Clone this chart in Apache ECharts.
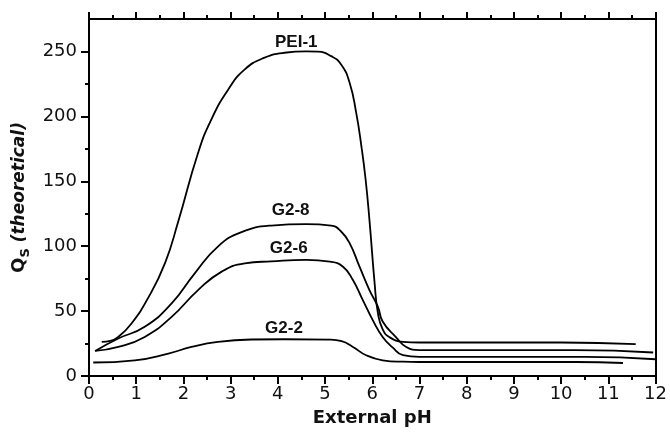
<!DOCTYPE html>
<html>
<head>
<meta charset="utf-8">
<script src="https://cdn.jsdelivr.net/npm/echarts@6/dist/echarts.min.js"></script>
<style>html,body{margin:0;padding:0;background:#fff}#c{width:670px;height:437px}</style>
</head>
<body>
<div id="c"></div>
<script>
// ---- data ----
const xTicks = [0,1,2,3,4,5,6,7,8,9,10,11,12];
const yTicks = [0,50,100,150,200,250];
const yMinorTicks = [25,75,125,175,225];

const pei1_pH = [0.27,0.45,0.62,0.9,1.25,1.61,1.89,2.31,2.59,2.95,3.3,3.72,4.14,4.6,4.85,5.13,5.34,5.52,5.66,5.77,5.86,5.94,6.05,6.12,6.22,6.36,6.65,7.0,10.0,11.58];
const pei1_Q  = [26.3,27.0,30.1,40.5,60.0,87.0,119.0,171.8,197.5,220.7,236.2,245.2,249,250,249.8,246.4,240,225.9,202.7,176.9,151,120.3,71.4,48.2,36,30,26.3,25.8,25.8,24.5];

const g28_pH = [0.13,0.62,1.18,1.75,2.24,2.73,3.23,3.86,4.6,5.13,5.34,5.52,5.73,5.94,6.12,6.22,6.5,6.72,7.0,10.3,11.95];
const g28_Q  = [19.3,28.9,37.9,55.9,79.1,99.7,110.8,115.9,117,115.9,111.3,102.3,84.2,66.2,53.3,42,30,22.4,19.9,19.9,18.1];

const g26_pH = [0.13,0.62,1.18,1.75,2.31,2.81,3.3,3.86,4.6,5.1,5.38,5.59,5.8,6.01,6.22,6.43,6.65,7.0,10.5,12.0];
const g26_Q  = [19.3,22.4,30.1,45.6,66.2,80.4,86.8,88.3,89.4,88.1,84.2,73.9,58.5,43,30.1,22,16,14.7,14.7,12.9];

const g22_pH = [0.09,0.97,1.68,2.17,2.73,3.44,4.14,5.1,5.35,5.59,5.87,6.22,6.64,7.0,10.3,11.31];
const g22_Q  = [10.4,12.1,17.3,22.4,26.3,28.1,28.3,28.0,26.8,22.4,16,12.1,11,10.8,10.8,10.0];

const seriesNames = ['PEI-1','G2-8','G2-6','G2-2'];
const labelAt = [[4.39,257.4],[4.27,127.6],[4.23,98.7],[4.13,36.9]];

// ---- chart ----
const pairs = (xs, ys) => xs.map((x,i)=>[x, ys[i]]);
const allData = [pairs(pei1_pH,pei1_Q), pairs(g28_pH,g28_Q), pairs(g26_pH,g26_Q), pairs(g22_pH,g22_Q)];

const tickFont = {fontFamily:'DejaVu Sans', fontSize:18, color:'#111'};
const lineStyle = {color:'#000', width:2};

const chart = echarts.init(document.getElementById('c'), null, {renderer:'canvas'});
chart.setOption({
  animation:false,
  backgroundColor:'#fff',
  grid:{left:89, right:13, top:19, bottom:61, containLabel:false},
  xAxis:[
    {type:'value', position:'bottom', min:0, max:12, interval:1,
     axisLine:{show:true, onZero:false, lineStyle:lineStyle},
     axisTick:{show:true, inside:false, length:8, lineStyle:{color:'#000', width:2}},
     minorTick:{show:true, splitNumber:2, length:4, lineStyle:{color:'#000', width:2}},
     splitLine:{show:false},
     axisLabel:Object.assign({margin:9, customValues:xTicks}, tickFont),
     name:'External pH', nameLocation:'middle', nameGap:33,
     nameTextStyle:{fontFamily:'DejaVu Sans', fontSize:18, fontWeight:'bold', color:'#111'}},
    {type:'value', position:'top', min:0, max:12, interval:1,
     axisLine:{show:true, onZero:false, lineStyle:lineStyle},
     axisTick:{show:true, inside:false, length:7, lineStyle:{color:'#000', width:2}},
     minorTick:{show:true, splitNumber:2, length:4, lineStyle:{color:'#000', width:2}},
     splitLine:{show:false}, axisLabel:{show:false}}
  ],
  yAxis:[
    {type:'value', position:'left', min:0, max:275,
     axisLine:{show:true, onZero:false, lineStyle:lineStyle},
     axisTick:{show:true, inside:false, length:8, customValues:yTicks, lineStyle:{color:'#000', width:2}},
     splitLine:{show:false},
     axisLabel:Object.assign({margin:12, customValues:yTicks}, tickFont),
     name:'{q|Q}{s|S}{t| (theoretical)}', nameLocation:'middle', nameGap:56, nameRotate:90,
     nameTextStyle:{
       rich:{
         q:{fontFamily:'DejaVu Sans', fontSize:18, fontWeight:'bold', color:'#111', lineHeight:24, verticalAlign:'middle'},
         s:{fontFamily:'DejaVu Sans', fontSize:13, fontWeight:'bold', color:'#111', lineHeight:24, verticalAlign:'bottom'},
         t:{fontFamily:'DejaVu Sans', fontSize:17, fontWeight:'bold', fontStyle:'italic', color:'#111', lineHeight:24, verticalAlign:'middle'}
       }
     }},
    {type:'value', position:'left', min:0, max:275,
     axisLine:{show:false},
     axisTick:{show:true, inside:false, length:4, customValues:yMinorTicks, lineStyle:{color:'#000', width:2}},
     splitLine:{show:false}, axisLabel:{show:false}},
    {type:'value', position:'right', min:0, max:275,
     axisLine:{show:true, onZero:false, lineStyle:lineStyle},
     axisTick:{show:false}, splitLine:{show:false}, axisLabel:{show:false}}
  ],
  series: allData.map((d,i)=>({
    type:'line', name:seriesNames[i], xAxisIndex:0, yAxisIndex:0,
    data:d, showSymbol:false, symbol:'none', smooth:0.5,
    lineStyle:{color:'#000', width:1.8},
    markPoint:{
      symbol:'rect', symbolSize:1, itemStyle:{color:'rgba(0,0,0,0)'},
      label:{show:true, position:'inside', formatter:seriesNames[i],
             fontFamily:'Liberation Sans', fontSize:17, fontWeight:'bold', color:'#111'},
      data:[{coord:labelAt[i]}]
    }
  }))
});
</script>
</body>
</html>
